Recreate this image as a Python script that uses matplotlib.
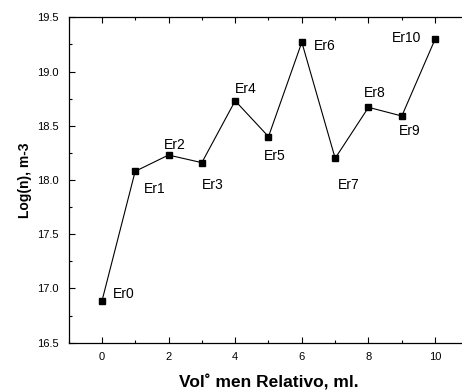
import matplotlib
matplotlib.use("Agg")
import matplotlib.pyplot as plt
from matplotlib.ticker import MultipleLocator

plt.rcParams['font.family'] = ['Liberation Sans', 'DejaVu Sans']

x = [0, 1, 2, 3, 4, 5, 6, 7, 8, 9, 10]
y = [16.88, 18.08, 18.23, 18.16, 18.73, 18.40, 19.27, 18.20, 18.67, 18.59, 19.30]
labels = ['Er0', 'Er1', 'Er2', 'Er3', 'Er4', 'Er5', 'Er6', 'Er7', 'Er8', 'Er9', 'Er10']
# label offsets in points
offsets = [(8, 5.5), (6, -13), (-3.6, 7), (0, -16), (0, 8.6), (-3.6, -14),
           (9, -2.7), (2, -19), (-3.6, 10), (-2, -11), (-10, 0.5)]
aligns = ['left'] * 10 + ['right']

fig = plt.figure(figsize=(4.62, 3.90), dpi=100)
ax = fig.add_axes([68.5 / 462, 1 - 342.7 / 390, 400 / 462, (342.7 - 17.3) / 390])
ax.plot(x, y, color='black', lw=0.8, marker='s', ms=5, mfc='black', mec='black')
for xi, yi, lab, off, ha in zip(x, y, labels, offsets, aligns):
    ax.annotate(lab, (xi, yi), xytext=off, textcoords='offset points',
                ha=ha, va='center', fontsize=10)

ax.set_xlim(-1, 11)
ax.set_ylim(16.5, 19.5)
ax.xaxis.set_major_locator(MultipleLocator(2))
ax.xaxis.set_minor_locator(MultipleLocator(1))
ax.yaxis.set_major_locator(MultipleLocator(0.5))
ax.yaxis.set_minor_locator(MultipleLocator(0.25))
ax.tick_params(which='both', direction='in', top=True, right=True, labelsize=8, width=0.8)
ax.tick_params(which='major', length=4)
ax.tick_params(which='minor', length=2.5)
ax.tick_params(axis='x', pad=7)
ax.tick_params(axis='y', pad=7)
ax.set_yticklabels([f'{v:.1f}' for v in ax.get_yticks()])
for s in ax.spines.values():
    s.set_linewidth(0.9)

ax.set_xlabel('Vol˚ men Relativo, ml.', fontsize=12.5, fontweight='bold', labelpad=9)
ax.set_ylabel('Log(n), m-3', fontsize=10, fontweight='bold', labelpad=4)

fig.savefig('out.png', dpi=100)
